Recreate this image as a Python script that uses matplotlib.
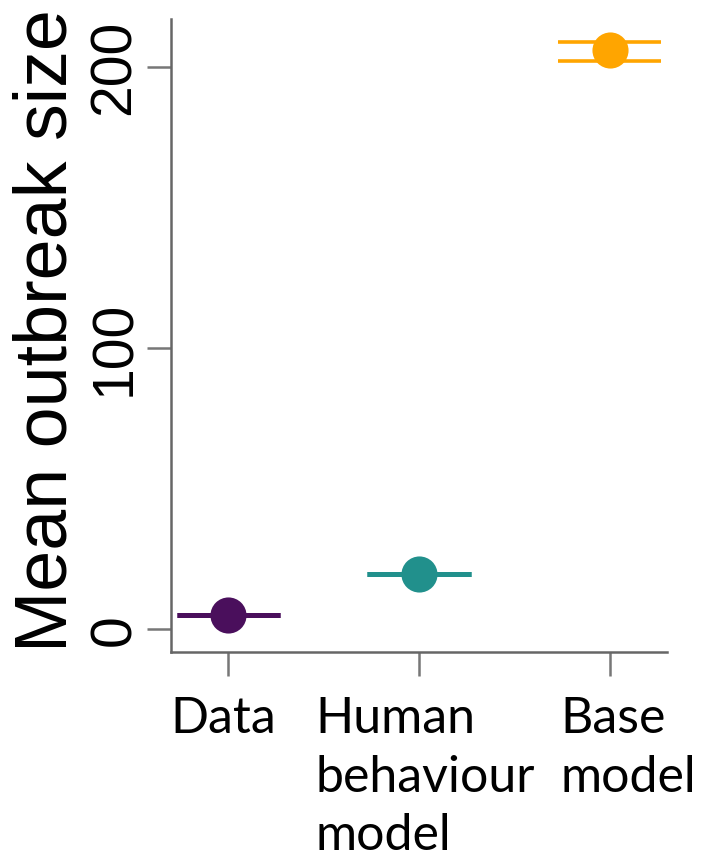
import matplotlib
matplotlib.use("Agg")
import matplotlib.pyplot as plt

# values
groups = ["Data", "Human\nbehaviour\nmodel", "Base\nmodel"]
means = [5.0, 19.6, 205.8]
lower = [5.0, 19.6, 202.0]
upper = [5.0, 19.6, 208.8]
colors = ["#4a0f5c", "#21908c", "#ffa500"]
yticks = [0, 100, 200]

fig = plt.figure(figsize=(7.06, 8.62), dpi=100)
ax = fig.add_axes([0.2422, 0.2425, 0.7026, 0.7343])

xs = [1, 2, 3]
for x, m, lo, hi, c in zip(xs, means, lower, upper, colors):
    lw = 3.6 if lo == hi else 2.6
    ax.hlines([lo, hi], x - 0.27, x + 0.27, color=c, lw=lw, zorder=2)
    ax.plot(x, m, "o", ms=26, color=c, mec="none", zorder=3)

ax.set_xlim(0.7, 3.3)
ax.set_ylim(-8.2, 217)
ax.set_yticks(yticks)
ax.set_yticklabels([str(t) for t in yticks], rotation=90, va="center",
                   fontfamily="Liberation Sans", fontsize=41)
ax.set_xticks(xs)
ax.set_xticklabels([])

# group labels, nudged a little off-centre like the original
shifts = [-3.6, 4.3, 13]
for x, g, dx in zip(xs, groups, shifts):
    ax.annotate(g, xy=(x, 0), xycoords=("data", "axes fraction"),
                xytext=(dx, -31), textcoords="offset points",
                ha="center", va="top", multialignment="left",
                fontfamily="Lato", fontsize=36, linespacing=1.34,
                annotation_clip=False)

for s in ["top", "right"]:
    ax.spines[s].set_visible(False)
for s in ["left", "bottom"]:
    ax.spines[s].set_color("#666666")
    ax.spines[s].set_linewidth(1.8)
ax.tick_params(axis="both", length=17, width=1.8, color="#777777")
ax.tick_params(axis="y", pad=4)

fig.text(0.018, 0.616, "Mean outbreak size", rotation=90, va="center",
         ha="left", fontfamily="Liberation Sans", fontsize=53)

fig.savefig("out.png", dpi=100)
